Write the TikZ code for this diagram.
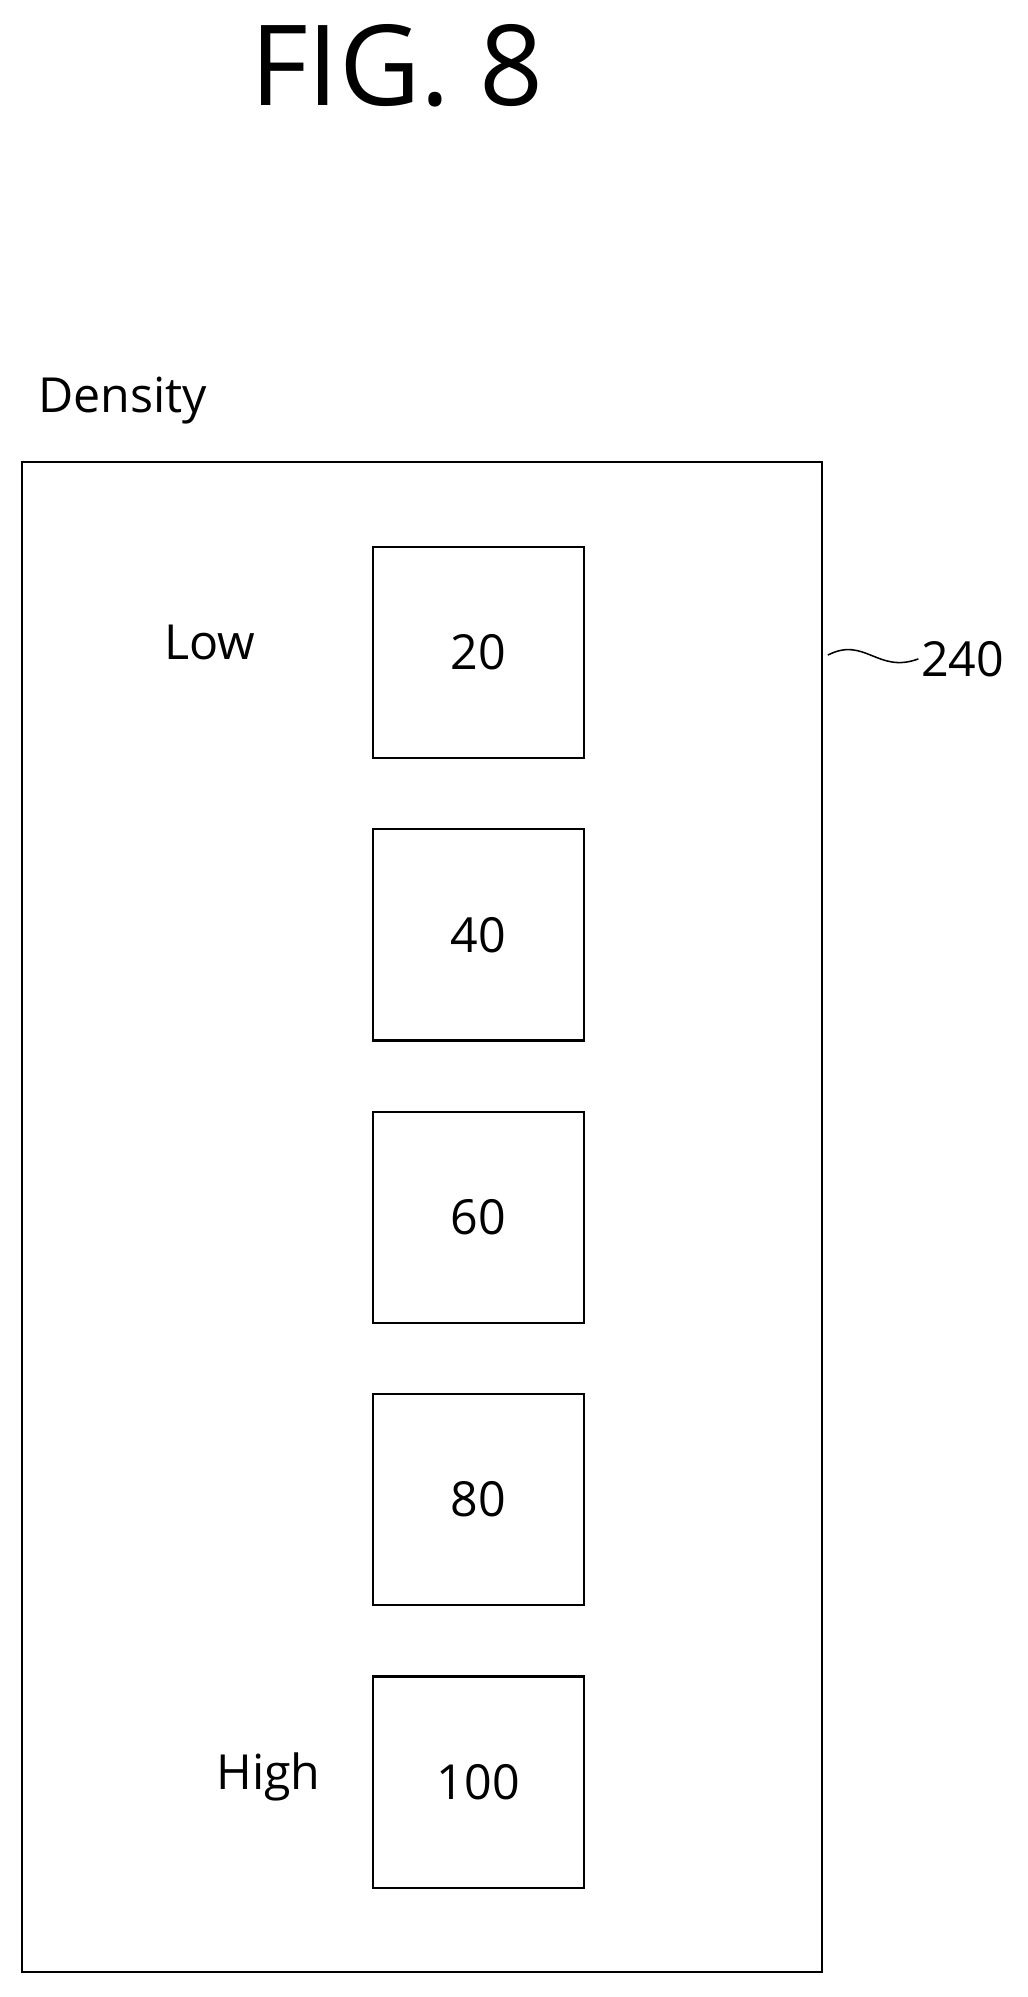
\documentclass[tikz,border=0pt]{standalone}
\usepackage{fontspec}
\setmainfont{Open Sans}
\begin{document}
\begin{tikzpicture}[x=1pt,y=-1pt,
  lbl/.style={inner sep=0pt,font=\fontsize{38}{40}\selectfont},
  cell/.style={draw,line width=1.6pt,minimum width=166pt,minimum height=166pt,inner sep=0pt,font=\fontsize{38}{40}\selectfont}]
\useasboundingbox (0,0) rectangle (808,1570);
\node[inner sep=0pt,font=\fontsize{88}{90}\selectfont] (fig) at (312,52) {FIG. 8};
\node[lbl,anchor=west] (dens) at (30,315) {Density};
\node[draw,line width=1.6pt,minimum width=629pt,minimum height=1187pt,inner sep=0pt] (outer) at (331.5,956.5) {};
\node[cell] (c20) at (376,513) {20};
\node[cell] (c40) at (376,735) {40};
\node[cell] (c60) at (376,957) {60};
\node[cell] (c80) at (376,1179) {80};
\node[cell] (c100) at (376,1401) {100};
\node[lbl] (low) at (165,505) {Low};
\node[lbl] (high) at (211,1397) {High};
\node[lbl,anchor=west] (ref) at (724,518) {240};
\coordinate (s) at (outer.east |- 0,515);
\draw[line width=1.2pt] ([xshift=4pt]s) .. controls (680,500) and (690,530) .. ([xshift=-2pt]ref.west);
\end{tikzpicture}
\end{document}
